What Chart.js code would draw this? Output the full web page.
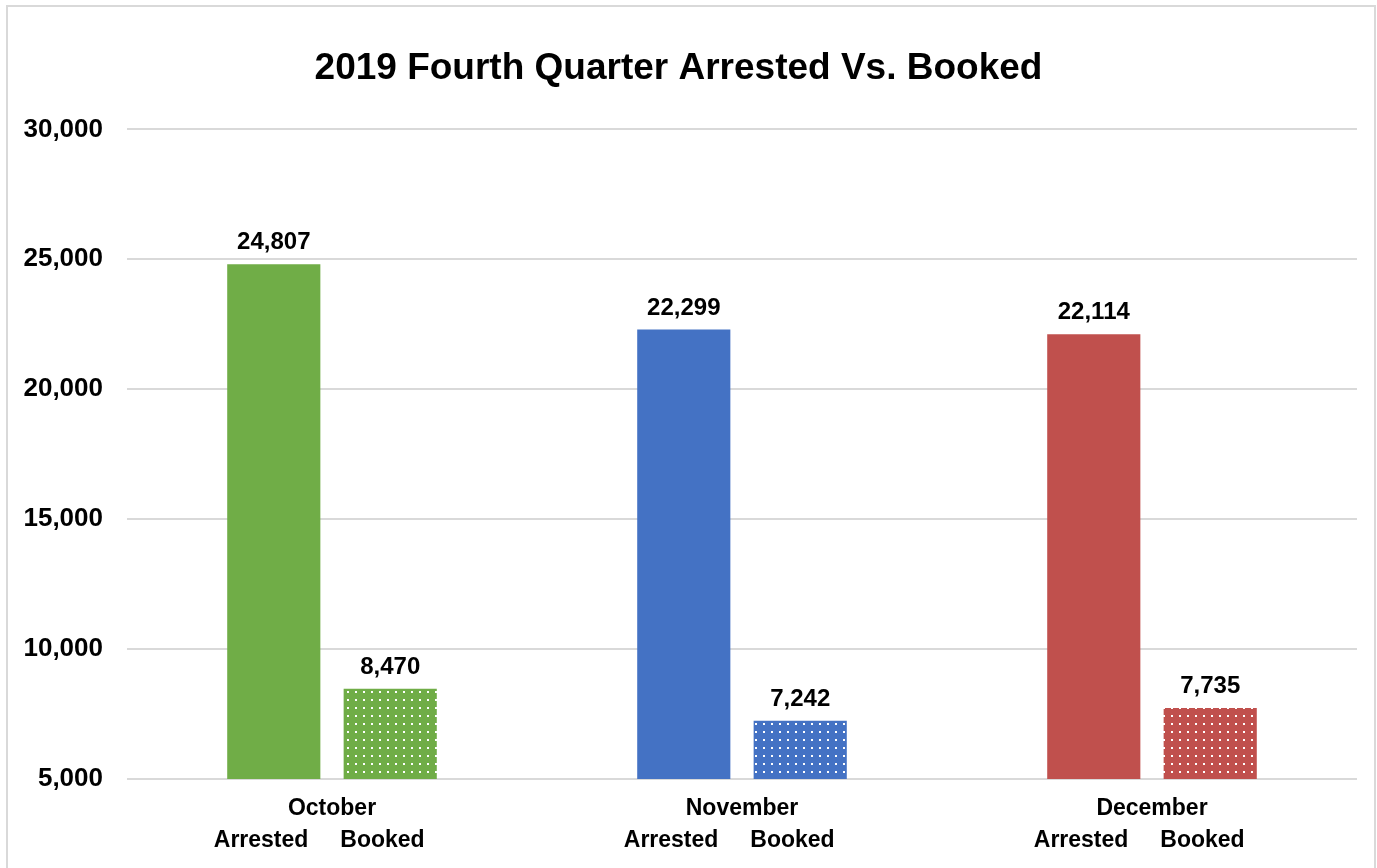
<!DOCTYPE html>
<html>
<head>
<meta charset="utf-8">
<script src="https://cdn.jsdelivr.net/npm/chart.js@4/dist/chart.umd.min.js"></script>
<style>
  body { margin: 0; background: #fff; overflow: hidden; }
  #wrap { position: relative; width: 1377px; height: 868px; }
  #frame { position: absolute; left: 6px; top: 5px; width: 1366px; height: 880px;
           border: 2px solid #d9d9d9; pointer-events: none; }
</style>
</head>
<body>
<div id="wrap">
  <canvas id="chart" width="1377" height="868"></canvas>
  <div id="frame"></div>
</div>
<script>
const FONT = '"Liberation Sans", Arial, sans-serif';

// Chart data
const months = ['October', 'November', 'December'];
const arrested = [24807, 22299, 22114];
const booked = [8470, 7242, 7735];
const monthColors = ['#70AD47', '#4472C4', '#C0504D'];
const yTicks = [5000, 10000, 15000, 20000, 25000, 30000];

// Dotted fill for the booked bars
function dotPattern(color) {
  const c = document.createElement('canvas');
  c.width = 8;
  c.height = 8;
  const g = c.getContext('2d');
  g.fillStyle = color;
  g.fillRect(0, 0, 8, 8);
  g.fillStyle = '#ffffff';
  g.fillRect(3, 3, 2, 2);
  return g.createPattern(c, 'repeat');
}

// Value labels above each bar
const valueLabels = {
  id: 'valueLabels',
  afterDatasetsDraw(chart) {
    const ctx = chart.ctx;
    ctx.save();
    ctx.font = 'bold 24px ' + FONT;
    ctx.fillStyle = '#000';
    ctx.textAlign = 'center';
    ctx.textBaseline = 'alphabetic';
    chart.data.datasets.forEach((ds, i) => {
      chart.getDatasetMeta(i).data.forEach((bar, j) => {
        ctx.fillText(ds.data[j].toLocaleString('en-US'), bar.x, bar.y - 15);
      });
    });
    ctx.restore();
  }
};

const ctx = document.getElementById('chart').getContext('2d');

new Chart(ctx, {
  type: 'bar',
  data: {
    // second line: sub labels under the two bars (trailing spaces nudge it left like the original)
    labels: months.map(m => [m, 'Arrested     Booked    ']),
    datasets: [
      {
        label: 'Arrested',
        data: arrested,
        backgroundColor: monthColors,
        categoryPercentage: 0.568,
        barPercentage: 0.8
      },
      {
        label: 'Booked',
        data: booked,
        backgroundColor: monthColors.map(dotPattern),
        categoryPercentage: 0.568,
        barPercentage: 0.8
      }
    ]
  },
  options: {
    responsive: false,
    animation: false,
    layout: { padding: { left: 0, right: 20, top: 0, bottom: 0 } },
    plugins: {
      legend: { display: false },
      tooltip: { enabled: false },
      title: {
        display: true,
        text: '2019 Fourth Quarter Arrested Vs. Booked',
        color: '#000',
        font: { family: FONT, size: 37, weight: 'bold', lineHeight: 1.2 },
        padding: { top: 47, bottom: 38 }
      }
    },
    scales: {
      x: {
        grid: { display: false },
        border: { display: false },
        ticks: {
          color: '#000',
          padding: 6,
          maxRotation: 0,
          font: { family: FONT, size: 23, weight: 'bold', lineHeight: 1.39 }
        },
        afterFit(scale) { scale.height = 89; }
      },
      y: {
        min: 5000,
        max: 30000,
        afterBuildTicks(scale) { scale.ticks = yTicks.map(v => ({ value: v })); },
        grid: { color: '#d9d9d9', lineWidth: 2, drawTicks: false },
        border: { display: false },
        ticks: {
          color: '#000',
          padding: 24,
          font: { family: FONT, size: 26, weight: 'bold' },
          callback: v => v.toLocaleString('en-US')
        },
        afterFit(scale) { scale.width = 127; }
      }
    }
  },
  plugins: [valueLabels]
});
</script>
</body>
</html>
